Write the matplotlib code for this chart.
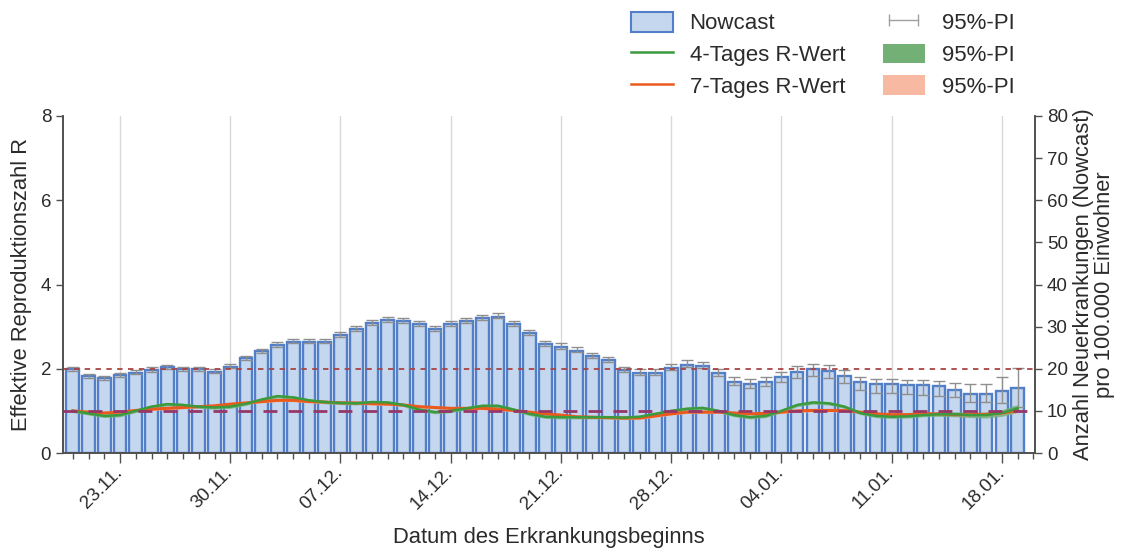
import numpy as np
import pandas as pd
import matplotlib
matplotlib.use("Agg")
import matplotlib.pyplot as plt
import matplotlib.dates as mdates
from matplotlib.patches import Patch
from matplotlib.lines import Line2D
from matplotlib.legend_handler import HandlerLine2D

plt.rcParams['font.family'] = ['Liberation Sans', 'DejaVu Sans']

# ---------------- data ----------------
start_date = "2020-11-20"
end_date = "2021-01-19"

nowcast = [19.9, 18.3, 17.7, 18.5, 19.1, 19.7, 20.3, 19.9, 19.9, 19.3,
           20.5, 22.5, 24.2, 25.6, 26.4, 26.4, 26.4, 28.0, 29.4, 30.8,
           31.6, 31.3, 30.6, 29.4, 30.6, 31.3, 32.0, 32.4, 30.6, 28.4,
           25.8, 25.2, 24.3, 23.0, 22.1, 19.7, 18.9, 18.9, 20.2, 21.0,
           20.7, 18.9, 16.9, 16.4, 16.9, 18.1, 19.3, 19.9, 19.5, 18.3,
           16.9, 16.3, 16.3, 16.1, 16.1, 15.9, 15.0, 14.0, 14.0, 14.6,
           15.4]
nowcast_lo = [19.5, 17.9, 17.3, 18.1, 18.7, 19.3, 19.9, 19.5, 19.5, 18.9,
              20.1, 22.1, 23.8, 25.2, 26.0, 26.0, 26.0, 27.6, 29.0, 30.4,
              31.2, 30.9, 30.2, 29.0, 30.2, 30.9, 31.6, 32.0, 30.2, 28.0,
              25.4, 24.8, 23.9, 22.6, 21.7, 19.3, 18.4, 18.4, 19.7, 20.5,
              20.1, 18.2, 16.1, 15.5, 15.9, 16.9, 17.9, 18.3, 17.8, 16.5,
              15.0, 14.3, 14.2, 13.9, 13.8, 13.5, 13.3, 12.2, 12.1, 11.8,
              11.0]
nowcast_hi = [20.4, 18.8, 18.2, 19.0, 19.6, 20.3, 20.9, 20.5, 20.5, 19.9,
              21.1, 23.1, 24.8, 26.3, 27.1, 27.1, 27.1, 28.7, 30.1, 31.6,
              32.4, 32.1, 31.4, 30.2, 31.4, 32.1, 32.8, 33.3, 31.4, 29.2,
              26.6, 26.0, 25.1, 23.8, 22.9, 20.5, 19.9, 19.9, 21.2, 22.0,
              21.7, 20.0, 18.0, 17.5, 18.0, 19.3, 20.6, 21.2, 20.8, 19.6,
              18.1, 17.5, 17.6, 17.3, 17.3, 17.2, 16.5, 16.4, 16.4, 18.1,
              20.1]

r4 = [1.00, 0.94, 0.88, 0.90, 1.00, 1.10, 1.16, 1.14, 1.10, 1.08,
      1.10, 1.17, 1.27, 1.35, 1.32, 1.25, 1.21, 1.19, 1.18, 1.21,
      1.20, 1.14, 1.03, 0.97, 1.00, 1.06, 1.12, 1.12, 1.03, 0.93,
      0.86, 0.85, 0.85, 0.85, 0.85, 0.84, 0.86, 0.93, 1.00, 1.05,
      1.07, 1.00, 0.90, 0.85, 0.88, 1.00, 1.14, 1.20, 1.18, 1.10,
      0.95, 0.88, 0.86, 0.87, 0.90, 0.92, 0.92, 0.90, 0.90, 0.95,
      1.06]
r4_lo = [0.96, 0.90, 0.84, 0.86, 0.96, 1.06, 1.12, 1.10, 1.06, 1.04,
         1.06, 1.13, 1.23, 1.31, 1.28, 1.21, 1.17, 1.15, 1.14, 1.17,
         1.16, 1.10, 0.99, 0.93, 0.96, 1.02, 1.08, 1.08, 0.99, 0.89,
         0.82, 0.81, 0.81, 0.81, 0.81, 0.80, 0.82, 0.89, 0.96, 1.01,
         1.03, 0.96, 0.86, 0.81, 0.84, 0.96, 1.10, 1.16, 1.14, 1.06,
         0.91, 0.84, 0.82, 0.83, 0.86, 0.87, 0.86, 0.84, 0.83, 0.87,
         0.97]
r4_hi = [1.04, 0.98, 0.92, 0.94, 1.04, 1.14, 1.20, 1.18, 1.14, 1.12,
         1.14, 1.21, 1.31, 1.39, 1.36, 1.29, 1.25, 1.23, 1.22, 1.25,
         1.24, 1.18, 1.07, 1.01, 1.04, 1.10, 1.16, 1.16, 1.07, 0.97,
         0.90, 0.89, 0.89, 0.89, 0.89, 0.88, 0.90, 0.97, 1.04, 1.09,
         1.11, 1.04, 0.94, 0.89, 0.92, 1.04, 1.18, 1.24, 1.22, 1.14,
         0.99, 0.92, 0.90, 0.91, 0.94, 0.97, 0.98, 0.96, 0.97, 1.03,
         1.15]
r7 = [1.00, 0.97, 0.95, 0.97, 1.01, 1.04, 1.06, 1.08, 1.10, 1.12,
      1.16, 1.19, 1.22, 1.25, 1.25, 1.22, 1.21, 1.19, 1.19, 1.17,
      1.16, 1.14, 1.10, 1.08, 1.06, 1.06, 1.06, 1.04, 1.01, 0.97,
      0.93, 0.90, 0.86, 0.85, 0.84, 0.83, 0.83, 0.88, 0.93, 0.97,
      0.97, 0.97, 0.95, 0.93, 0.94, 0.97, 1.00, 1.01, 1.01, 1.01,
      0.97, 0.93, 0.91, 0.91, 0.93, 0.93, 0.91, 0.91, 0.92, 0.95,
      1.01]
r7_lo = [0.97, 0.94, 0.92, 0.94, 0.98, 1.01, 1.03, 1.05, 1.07, 1.09,
         1.13, 1.16, 1.19, 1.22, 1.22, 1.19, 1.18, 1.16, 1.16, 1.14,
         1.13, 1.11, 1.07, 1.05, 1.03, 1.03, 1.03, 1.01, 0.98, 0.94,
         0.90, 0.87, 0.83, 0.82, 0.81, 0.80, 0.80, 0.85, 0.90, 0.94,
         0.94, 0.94, 0.92, 0.90, 0.91, 0.94, 0.97, 0.98, 0.98, 0.98,
         0.94, 0.90, 0.88, 0.88, 0.90, 0.90, 0.88, 0.87, 0.88, 0.90,
         0.95]
r7_hi = [1.03, 1.00, 0.98, 1.00, 1.04, 1.07, 1.09, 1.11, 1.13, 1.15,
         1.19, 1.22, 1.25, 1.28, 1.28, 1.25, 1.24, 1.22, 1.22, 1.20,
         1.19, 1.17, 1.13, 1.11, 1.09, 1.09, 1.09, 1.07, 1.04, 1.00,
         0.96, 0.93, 0.89, 0.88, 0.87, 0.86, 0.86, 0.91, 0.96, 1.00,
         1.00, 1.00, 0.98, 0.96, 0.97, 1.00, 1.03, 1.04, 1.04, 1.04,
         1.00, 0.96, 0.94, 0.94, 0.96, 0.96, 0.94, 0.95, 0.96, 1.00,
         1.07]

threshold_incidence = 20
threshold_r = 1

left_ticks = [0, 2, 4, 6, 8]
right_ticks = [0, 10, 20, 30, 40, 50, 60, 70, 80]

# ---------------- styles ----------------
BAR_FACE = "#c4d7ef"
BAR_EDGE = "#527fc8"
ERR_COL = "#8f8f8f"
GREEN = "#3a9a3e"
GREEN_PI = "#72b075"
ORANGE = "#ea5a1e"
ORANGE_PI = "#f8b9a2"
DASH_R = "#963768"
DASH_INC = "#a84444"
GRID = "#d9d9d9"
SPINE = "#505050"
TXT = "#2b2b2b"
LABEL_FS = 15.8
TICK_FS = 13.5
LEG_FS = 16

dates = pd.date_range(start_date, end_date, freq="D")
x = mdates.date2num(dates)

fig = plt.figure(figsize=(11.26, 5.49), dpi=100)
W, H = 1126, 549
ax_inc = fig.add_axes([63 / W, 1 - 453 / H, (1035 - 63) / W, (453 - 116) / H])

# bars (right axis, incidence)
ax_inc.bar(x, nowcast, width=0.8, color=BAR_FACE, edgecolor=BAR_EDGE,
           linewidth=1.7, zorder=2)
yerr = [np.array(nowcast) - np.array(nowcast_lo),
        np.array(nowcast_hi) - np.array(nowcast)]
ax_inc.errorbar(x, nowcast, yerr=yerr, fmt="none", ecolor=ERR_COL,
                elinewidth=1.0, capsize=4, capthick=1.0, zorder=3)
ax_inc.axhline(threshold_incidence, color=DASH_INC, lw=1.3,
               dashes=(3, 3), zorder=4)

ax_inc.set_xlim(x[0] - 0.62, x[-1] + 1.1)
ax_inc.xaxis.set_major_locator(mdates.WeekdayLocator(byweekday=mdates.MO))
ax_inc.xaxis.set_minor_locator(mdates.DayLocator())
ax_inc.xaxis.set_major_formatter(mdates.DateFormatter("%d.%m."))
ax_inc.grid(axis="x", which="major", color=GRID, lw=1.0, zorder=0)
ax_inc.set_axisbelow(True)
ax_inc.set_xlabel("Datum des Erkrankungsbeginns", fontsize=LABEL_FS,
                  color=TXT, labelpad=10)
for lab in ax_inc.get_xticklabels():
    lab.set_rotation(45)
    lab.set_ha("right")
    lab.set_va("center")
    lab.set_rotation_mode("anchor")

ax_inc.tick_params(axis="x", which="major", length=7, width=1.0,
                   color=SPINE, labelsize=TICK_FS, labelcolor=TXT, pad=5)
ax_inc.tick_params(axis="x", which="minor", length=4, width=1.0, color=SPINE)

# R axis (left)
ax_r = ax_inc.twinx()
ax_r.yaxis.tick_left()
ax_r.yaxis.set_label_position("left")
ax_r.set_ylim(0, 8)
ax_r.set_yticks(left_ticks)
ax_r.set_ylabel("Effektive Reproduktionszahl R", fontsize=LABEL_FS,
                color=TXT, labelpad=6)
ax_r.tick_params(axis="y", length=5, width=1.0, color=SPINE,
                 labelsize=TICK_FS, labelcolor=TXT)

# incidence axis on the right (after twin creation)
ax_inc.set_ylim(0, 80)
ax_inc.set_yticks(right_ticks)
ax_inc.yaxis.tick_right()
ax_inc.yaxis.set_label_position("right")
ax_inc.set_ylabel("Anzahl Neuerkrankungen (Nowcast)\npro 100.000 Einwohner",
                  fontsize=LABEL_FS, color=TXT, linespacing=1.0, labelpad=4)
ax_inc.tick_params(axis="y", length=5, width=1.0, color=SPINE,
                   labelsize=TICK_FS, labelcolor=TXT)

ax_r.fill_between(x, r7_lo, r7_hi, color=ORANGE_PI, lw=0, zorder=2)
ax_r.fill_between(x, r4_lo, r4_hi, color=GREEN_PI, lw=0, alpha=0.8, zorder=2)
ax_r.plot(x, r7, color=ORANGE, lw=2.2, zorder=3)
ax_r.plot(x, r4, color=GREEN, lw=1.8, zorder=3)
ax_r.axhline(threshold_r, color=DASH_R, lw=2.0, dashes=(5, 4), zorder=4)

for a in (ax_inc, ax_r):
    a.spines["top"].set_visible(False)
    for s in ("left", "right", "bottom"):
        a.spines[s].set_color(SPINE)
        a.spines[s].set_linewidth(1.2)

# legend
h_now = Patch(facecolor=BAR_FACE, edgecolor=BAR_EDGE, lw=1.5)
h_r4 = Line2D([], [], color=GREEN, lw=1.8)
h_r7 = Line2D([], [], color=ORANGE, lw=1.8)
h_err = Line2D([], [], color="#a0a0a0", lw=1.0, marker="|", markersize=8,
               markeredgewidth=1.0)
h_gpi = Patch(facecolor=GREEN_PI, edgecolor="none")
h_opi = Patch(facecolor=ORANGE_PI, edgecolor="none")
handles = [h_now, h_r4, h_r7, h_err, h_gpi, h_opi]
labels = ["Nowcast", "4-Tages R-Wert", "7-Tages R-Wert",
          "95%-PI", "95%-PI", "95%-PI"]
leg = fig.legend(handles, labels, ncol=2, loc="upper left",
                 bbox_to_anchor=(624 / W, 1 - 5 / H), frameon=False,
                 fontsize=LEG_FS, handlelength=1.9, handleheight=1.0,
                 handletextpad=0.75, columnspacing=1.7, labelspacing=0.42,
                 borderaxespad=0, borderpad=0.3,
                 handler_map={h_err: HandlerLine2D(numpoints=2)})
for t in leg.get_texts():
    t.set_color(TXT)

fig.savefig("out.png", dpi=100)
